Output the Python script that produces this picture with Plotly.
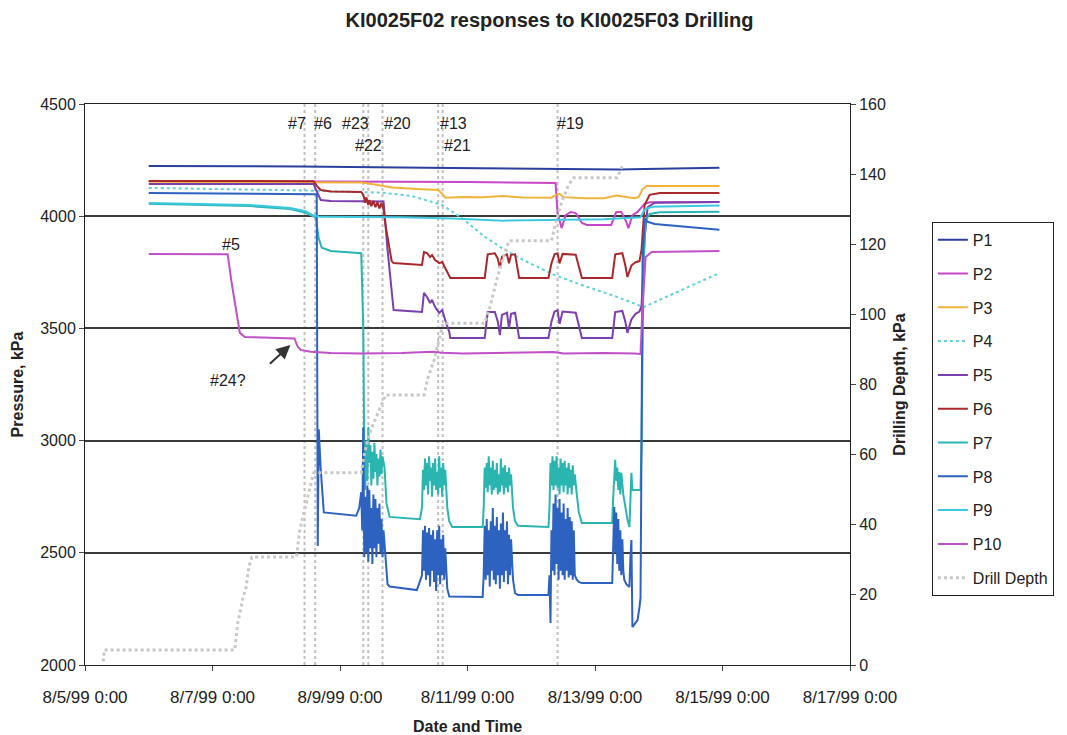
import plotly.graph_objects as go
import pandas as pd

T0 = pd.Timestamp("1999-08-05 00:00")

# (days since 8/5/99 0:00, pressure kPa)
P1 = [(1.000, 4224), (3.381, 4222), (5.762, 4215), (7.397, 4210), (8.381, 4208), (8.778, 4210), (9.952, 4216)]

P2 = [(1.000, 4157), (4.000, 4155), (6.000, 4152), (7.381, 4148), (7.413, 4014), (7.476, 3947), (7.540, 4005),
      (7.619, 4019), (7.698, 4014), (7.794, 3970), (7.873, 3961), (8.254, 3961), (8.333, 4019), (8.413, 4019),
      (8.492, 3974), (8.524, 3947), (8.587, 4005), (8.667, 4019), (8.730, 4037), (8.778, 4055), (8.857, 4062),
      (9.952, 4063)]

P3 = [(1.000, 4153), (4.333, 4150), (4.571, 4140), (4.810, 4128), (5.286, 4120), (5.540, 4117), (5.603, 4100),
      (5.651, 4082), (5.921, 4086), (6.238, 4085), (6.556, 4090), (6.873, 4083), (7.317, 4082), (7.381, 4095),
      (7.444, 4100), (7.508, 4085), (7.825, 4080), (8.143, 4080), (8.333, 4092), (8.429, 4088), (8.619, 4080),
      (8.683, 4085), (8.746, 4120), (8.810, 4135), (9.952, 4135)]

P4 = [(1.000, 4126), (3.381, 4115), (4.651, 4105), (5.127, 4090), (5.603, 4050), (5.921, 3990), (6.238, 3915),
      (6.556, 3855), (6.873, 3805), (7.349, 3740), (7.825, 3690), (8.302, 3645), (8.762, 3595), (9.952, 3747)]

P5 = [(1.000, 4144), (3.587, 4143), (3.635, 4110), (3.698, 4072), (3.857, 4068), (4.683, 4066), (4.746, 3850),
      (4.841, 3582), (5.286, 3573), (5.317, 3658), (5.365, 3640), (5.413, 3613), (5.444, 3627), (5.492, 3595),
      (5.556, 3569), (5.603, 3582), (5.651, 3537), (5.714, 3484), (5.730, 3457), (6.270, 3457), (6.317, 3573),
      (6.429, 3573), (6.476, 3530), (6.508, 3470), (6.540, 3560), (6.619, 3570), (6.651, 3500), (6.683, 3565),
      (6.746, 3570), (6.810, 3457), (7.270, 3457), (7.317, 3530), (7.365, 3575), (7.413, 3580), (7.444, 3520),
      (7.492, 3575), (7.698, 3570), (7.794, 3457), (8.270, 3457), (8.317, 3573), (8.429, 3578), (8.476, 3530),
      (8.508, 3480), (8.571, 3540), (8.635, 3565), (8.698, 3575), (8.730, 3600), (8.778, 3900), (8.825, 4040),
      (8.937, 4060), (9.952, 4063)]

P6 = [(1.000, 4157), (3.587, 4156), (3.635, 4135), (3.698, 4117), (3.857, 4110), (4.333, 4108), (4.365, 4095),
      (4.397, 4060), (4.413, 4085), (4.444, 4050), (4.460, 4072), (4.492, 4045), (4.524, 4068), (4.556, 4040),
      (4.587, 4062), (4.619, 4035), (4.651, 4058), (4.683, 4032), (4.714, 3960), (4.810, 3800), (4.841, 3791),
      (5.286, 3783), (5.317, 3840), (5.365, 3836), (5.413, 3818), (5.444, 3827), (5.492, 3805), (5.556, 3791),
      (5.603, 3796), (5.651, 3769), (5.714, 3738), (5.730, 3725), (6.270, 3725), (6.317, 3830), (6.429, 3835),
      (6.476, 3810), (6.508, 3770), (6.540, 3820), (6.619, 3830), (6.651, 3790), (6.683, 3828), (6.746, 3830),
      (6.810, 3725), (7.270, 3725), (7.317, 3790), (7.365, 3830), (7.413, 3835), (7.444, 3790), (7.492, 3832),
      (7.698, 3828), (7.794, 3725), (8.270, 3725), (8.317, 3830), (8.429, 3835), (8.476, 3780), (8.508, 3729),
      (8.571, 3780), (8.635, 3795), (8.698, 3800), (8.730, 3850), (8.778, 4050), (8.857, 4095), (9.016, 4103),
      (9.952, 4103)]

P7 = [(1.000, 4055), (2.587, 4045), (3.222, 4032), (3.460, 4015), (3.571, 4000), (3.619, 3995), (3.667, 3900),
      (3.714, 3860), (3.857, 3845), (4.333, 3835), (4.365, 3500), (4.381, 2900), (4.397, 2780), (4.413, 3000),
      (4.429, 2820), (4.444, 3060), (4.460, 2900), (4.476, 2980), (4.492, 2800), (4.508, 2950), (4.524, 2830),
      (4.540, 2990), (4.556, 2860), (4.571, 2940), (4.587, 2800), (4.603, 2920), (4.619, 2840), (4.635, 2960),
      (4.651, 2850), (4.667, 2930), (4.698, 2880), (4.730, 2720), (4.778, 2660), (5.254, 2650),
      (5.286, 2700), (5.302, 2870), (5.317, 2780), (5.333, 2920), (5.349, 2800), (5.365, 2900), (5.381, 2760),
      (5.397, 2930), (5.413, 2820), (5.429, 2880), (5.444, 2750), (5.460, 2900), (5.476, 2800), (5.492, 2920),
      (5.508, 2780), (5.524, 2860), (5.540, 2760), (5.556, 2930), (5.571, 2790), (5.587, 2880), (5.603, 2750),
      (5.619, 2900), (5.635, 2800), (5.651, 2870), (5.683, 2700), (5.714, 2640), (5.762, 2615), (6.238, 2615),
      (6.254, 2700), (6.270, 2880), (6.286, 2790), (6.302, 2900), (6.317, 2770), (6.333, 2930), (6.349, 2800),
      (6.365, 2880), (6.381, 2760), (6.397, 2910), (6.413, 2780), (6.429, 2870), (6.444, 2790), (6.460, 2900),
      (6.476, 2760), (6.492, 2850), (6.508, 2770), (6.524, 2920), (6.540, 2800), (6.556, 2880), (6.571, 2760),
      (6.587, 2890), (6.603, 2790), (6.619, 2860), (6.635, 2770), (6.651, 2880), (6.667, 2800), (6.683, 2850),
      (6.714, 2700), (6.746, 2640), (6.794, 2620), (7.270, 2615),
      (7.286, 2700), (7.302, 2900), (7.317, 2800), (7.333, 2930), (7.349, 2780), (7.365, 2910), (7.381, 2800),
      (7.397, 2930), (7.413, 2790), (7.429, 2880), (7.444, 2760), (7.460, 2920), (7.476, 2800), (7.492, 2900),
      (7.508, 2770), (7.524, 2910), (7.540, 2800), (7.556, 2880), (7.571, 2760), (7.587, 2900), (7.603, 2790),
      (7.619, 2870), (7.635, 2760), (7.651, 2890), (7.667, 2800), (7.683, 2850), (7.714, 2760), (7.746, 2680),
      (7.794, 2633), (8.270, 2633),
      (8.286, 2750), (8.317, 2914), (8.333, 2820), (8.349, 2880), (8.365, 2780), (8.381, 2860), (8.397, 2760),
      (8.413, 2856), (8.444, 2760), (8.476, 2700), (8.508, 2650), (8.540, 2615), (8.571, 2856), (8.587, 2780),
      (8.714, 2780), (8.730, 3000), (8.762, 3800), (8.794, 3980), (8.857, 4010), (9.016, 4018), (9.952, 4020)]

P8 = [(1.000, 4103), (3.381, 4100), (3.635, 4098), (3.651, 2530), (3.667, 3050), (3.698, 2870), (3.746, 2680),
      (4.254, 2665), (4.302, 2700), (4.333, 2770), (4.349, 2600), (4.365, 3060), (4.381, 2480), (4.397, 2750),
      (4.413, 2500), (4.429, 2800), (4.444, 2460), (4.460, 2780), (4.476, 2520), (4.492, 2700), (4.508, 2450),
      (4.524, 2760), (4.540, 2520), (4.556, 2740), (4.571, 2480), (4.587, 2700), (4.603, 2540), (4.619, 2720),
      (4.635, 2500), (4.651, 2650), (4.667, 2480), (4.683, 2600), (4.714, 2500), (4.746, 2360), (4.778, 2350),
      (5.206, 2334),
      (5.286, 2400), (5.302, 2600), (5.317, 2420), (5.333, 2620), (5.349, 2380), (5.365, 2590), (5.381, 2400),
      (5.397, 2610), (5.413, 2350), (5.429, 2580), (5.444, 2420), (5.460, 2600), (5.476, 2370), (5.492, 2560),
      (5.508, 2330), (5.524, 2600), (5.540, 2400), (5.556, 2620), (5.571, 2360), (5.587, 2560), (5.603, 2400),
      (5.619, 2580), (5.635, 2380), (5.651, 2520), (5.683, 2340), (5.714, 2305), (6.238, 2303),
      (6.254, 2400), (6.270, 2620), (6.286, 2380), (6.302, 2650), (6.317, 2400), (6.333, 2600), (6.349, 2350),
      (6.365, 2640), (6.381, 2420), (6.397, 2700), (6.413, 2380), (6.429, 2620), (6.444, 2360), (6.460, 2660),
      (6.476, 2400), (6.492, 2600), (6.508, 2340), (6.524, 2630), (6.540, 2400), (6.556, 2680), (6.571, 2370),
      (6.587, 2600), (6.603, 2420), (6.619, 2640), (6.635, 2360), (6.651, 2580), (6.667, 2400), (6.683, 2560),
      (6.714, 2380), (6.746, 2320), (6.794, 2312), (7.270, 2312),
      (7.286, 2400), (7.302, 2187), (7.317, 2600), (7.333, 2420), (7.349, 2720), (7.365, 2400), (7.381, 2760),
      (7.397, 2450), (7.413, 2700), (7.429, 2380), (7.444, 2740), (7.460, 2420), (7.476, 2680), (7.492, 2400),
      (7.508, 2720), (7.524, 2380), (7.540, 2650), (7.556, 2420), (7.571, 2700), (7.587, 2390), (7.603, 2660),
      (7.619, 2400), (7.635, 2640), (7.651, 2380), (7.667, 2600), (7.683, 2400), (7.714, 2380), (7.746, 2370),
      (7.794, 2365), (8.270, 2365),
      (8.286, 2500), (8.302, 2704), (8.317, 2500), (8.333, 2680), (8.349, 2450), (8.365, 2650), (8.381, 2420),
      (8.397, 2600), (8.413, 2400), (8.429, 2560), (8.444, 2420), (8.460, 2379), (8.492, 2360), (8.540, 2348),
      (8.556, 2480), (8.571, 2557), (8.587, 2169), (8.619, 2180), (8.667, 2200), (8.698, 2258), (8.714, 2300),
      (8.730, 3000), (8.746, 3800), (8.778, 3990), (8.825, 3975), (8.937, 3965), (9.952, 3940)]

P9 = [(1.000, 4059), (2.587, 4050), (3.222, 4037), (3.460, 4022), (3.587, 4003), (3.698, 3997), (4.968, 3995),
      (5.762, 3990), (6.556, 3980), (7.349, 3982), (8.143, 3986), (8.714, 3995), (8.778, 4030), (8.889, 4042),
      (9.952, 4048)]

P10 = [(1.000, 3832), (2.238, 3830), (2.302, 3700), (2.381, 3550), (2.429, 3480), (2.508, 3462), (2.905, 3460),
       (3.286, 3455), (3.333, 3420), (3.381, 3404), (3.540, 3396), (3.857, 3390), (4.333, 3388), (4.968, 3390),
       (5.444, 3396), (5.603, 3392), (5.921, 3388), (6.556, 3390), (7.349, 3395), (7.508, 3388), (8.143, 3390),
       (8.619, 3388), (8.714, 3386), (8.746, 3600), (8.794, 3818), (8.889, 3840), (9.952, 3845)]

# (days since 8/5/99 0:00, drilling depth)
DRILL = [(0.286, 1.0), (0.302, 4.3), (2.349, 4.3), (2.397, 12.0), (2.476, 19.0), (2.524, 22.0), (2.571, 28.0),
         (2.619, 30.8), (3.317, 30.8), (3.365, 38.0), (3.413, 42.0), (3.460, 45.5), (3.524, 50.0), (3.587, 54.8),
         (4.333, 54.8), (4.381, 60.0), (4.460, 66.0), (4.556, 70.0), (4.651, 74.0), (4.714, 77.0), (5.317, 77.0),
         (5.381, 82.0), (5.476, 87.0), (5.556, 93.0), (5.619, 97.5), (6.270, 97.5), (6.365, 103.0), (6.460, 110.0),
         (6.556, 116.0), (6.651, 121.0), (7.317, 121.0), (7.397, 127.0), (7.476, 132.0), (7.587, 137.0),
         (7.667, 139.0), (8.349, 139.0), (8.397, 141.0), (8.444, 143.0)]

SERIES_NAMES = ["P1", "P2", "P3", "P4", "P5", "P6", "P7", "P8", "P9", "P10"]
SERIES_DATA = [P1, P2, P3, P4, P5, P6, P7, P8, P9, P10]
COLORS = ["#2b3f9e", "#c846c8", "#f0b43c", "#5fd0dc", "#7b3fae", "#a8282c",
          "#2ab5b0", "#2e62c0", "#3cc8e0", "#c050c8"]
DASHES = ["solid", "solid", "solid", "dot", "solid", "solid", "solid", "solid", "solid", "solid"]

# event markers (days since 8/5/99 0:00)
EVENT_DAYS = [3.444, 3.611, 4.365, 4.444, 4.667, 5.540, 5.611, 7.413]
# event labels: (text, day, pressure level for placement)
EVENT_LABELS = [("#7", 3.333, 4411), ("#6", 3.730, 4411), ("#23", 4.238, 4411), ("#20", 4.905, 4411),
                ("#13", 5.778, 4411), ("#19", 7.619, 4411), ("#22", 4.444, 4313), ("#21", 5.841, 4313),
                ("#5", 2.286, 3876), ("#24?", 2.238, 3266)]
ARROW_AT = (3.222, 3426)

FONT = "Arial, Liberation Sans, sans-serif"


def days_to_time(days):
    return T0 + pd.to_timedelta(list(days), unit="D")


fig = go.Figure()
for name, data, col, dash in zip(SERIES_NAMES, SERIES_DATA, COLORS, DASHES):
    fig.add_trace(go.Scatter(
        x=days_to_time([p[0] for p in data]), y=[p[1] for p in data],
        mode="lines", name=name, legendgroup=name,
        line=dict(color=col, width=2, dash=dash)))

fig.add_trace(go.Scatter(
    x=days_to_time([p[0] for p in DRILL]), y=[p[1] for p in DRILL],
    mode="lines", name="Drill Depth", legendgroup="Drill Depth", yaxis="y2",
    line=dict(color="#c8c8c8", width=3, dash="dot")))

shapes = []
for d in EVENT_DAYS:
    t = T0 + pd.Timedelta(days=d)
    shapes.append(dict(type="line", xref="x", yref="paper", x0=t, x1=t, y0=0, y1=1,
                       line=dict(color="#c0c0c0", width=2, dash="dot"), layer="below"))

annotations = []
for text, d, yv in EVENT_LABELS:
    annotations.append(dict(x=T0 + pd.Timedelta(days=d), y=yv, xref="x", yref="y", text=text,
                            showarrow=False, font=dict(family=FONT, size=16, color="#222")))
annotations.append(dict(x=T0 + pd.Timedelta(days=ARROW_AT[0]), y=ARROW_AT[1], xref="x", yref="y",
                        text="", showarrow=True, ax=-22, ay=20, arrowhead=2, arrowsize=1.4,
                        arrowwidth=2, arrowcolor="#333"))

fig.update_layout(
    width=1067, height=735,
    margin=dict(l=85, r=217, t=104, b=70),
    paper_bgcolor="white", plot_bgcolor="white",
    font=dict(family=FONT, size=16, color="#222"),
    title=dict(text="<b>KI0025F02 responses to KI0025F03 Drilling</b>", x=0.515, xref="container",
               xanchor="center", y=0.973, yref="container", yanchor="middle",
               font=dict(size=20, family=FONT, color="#222")),
    xaxis=dict(type="date", range=[T0, T0 + pd.Timedelta(days=12)], dtick=2 * 86400000,
               tick0=T0, tickformat="%-m/%-d/%y %-H:%M", ticks="outside", ticklen=5,
               ticklabelstandoff=12, showline=True, linecolor="#222", linewidth=1, mirror=True,
               showgrid=False, zeroline=False, automargin=False, tickfont=dict(size=17),
               title=dict(text="<b>Date and Time</b>", standoff=16, font=dict(size=16))),
    yaxis=dict(range=[2000, 4500], dtick=500, ticks="outside", ticklen=5, showline=True,
               linecolor="#222", linewidth=1, showgrid=True, gridcolor="#3a3a3a", gridwidth=1.5,
               zeroline=False, automargin=False,
               title=dict(text="<b>Pressure, kPa</b>", standoff=12, font=dict(size=16))),
    yaxis2=dict(range=[0, 160], dtick=20, overlaying="y", side="right", ticks="outside", ticklen=5,
                showline=True, linecolor="#222", linewidth=1, showgrid=False, zeroline=False,
                automargin=False,
                title=dict(text="<b>Drilling Depth, kPa</b>", standoff=8, font=dict(size=16))),
    legend=dict(x=1.107, xanchor="left", y=0.79, yanchor="top", bordercolor="#222", borderwidth=1,
                bgcolor="white", font=dict(size=16, family=FONT, color="#222"), tracegroupgap=10,
                traceorder="grouped"),
    shapes=shapes, annotations=annotations,
)

fig.write_html("out.html")
